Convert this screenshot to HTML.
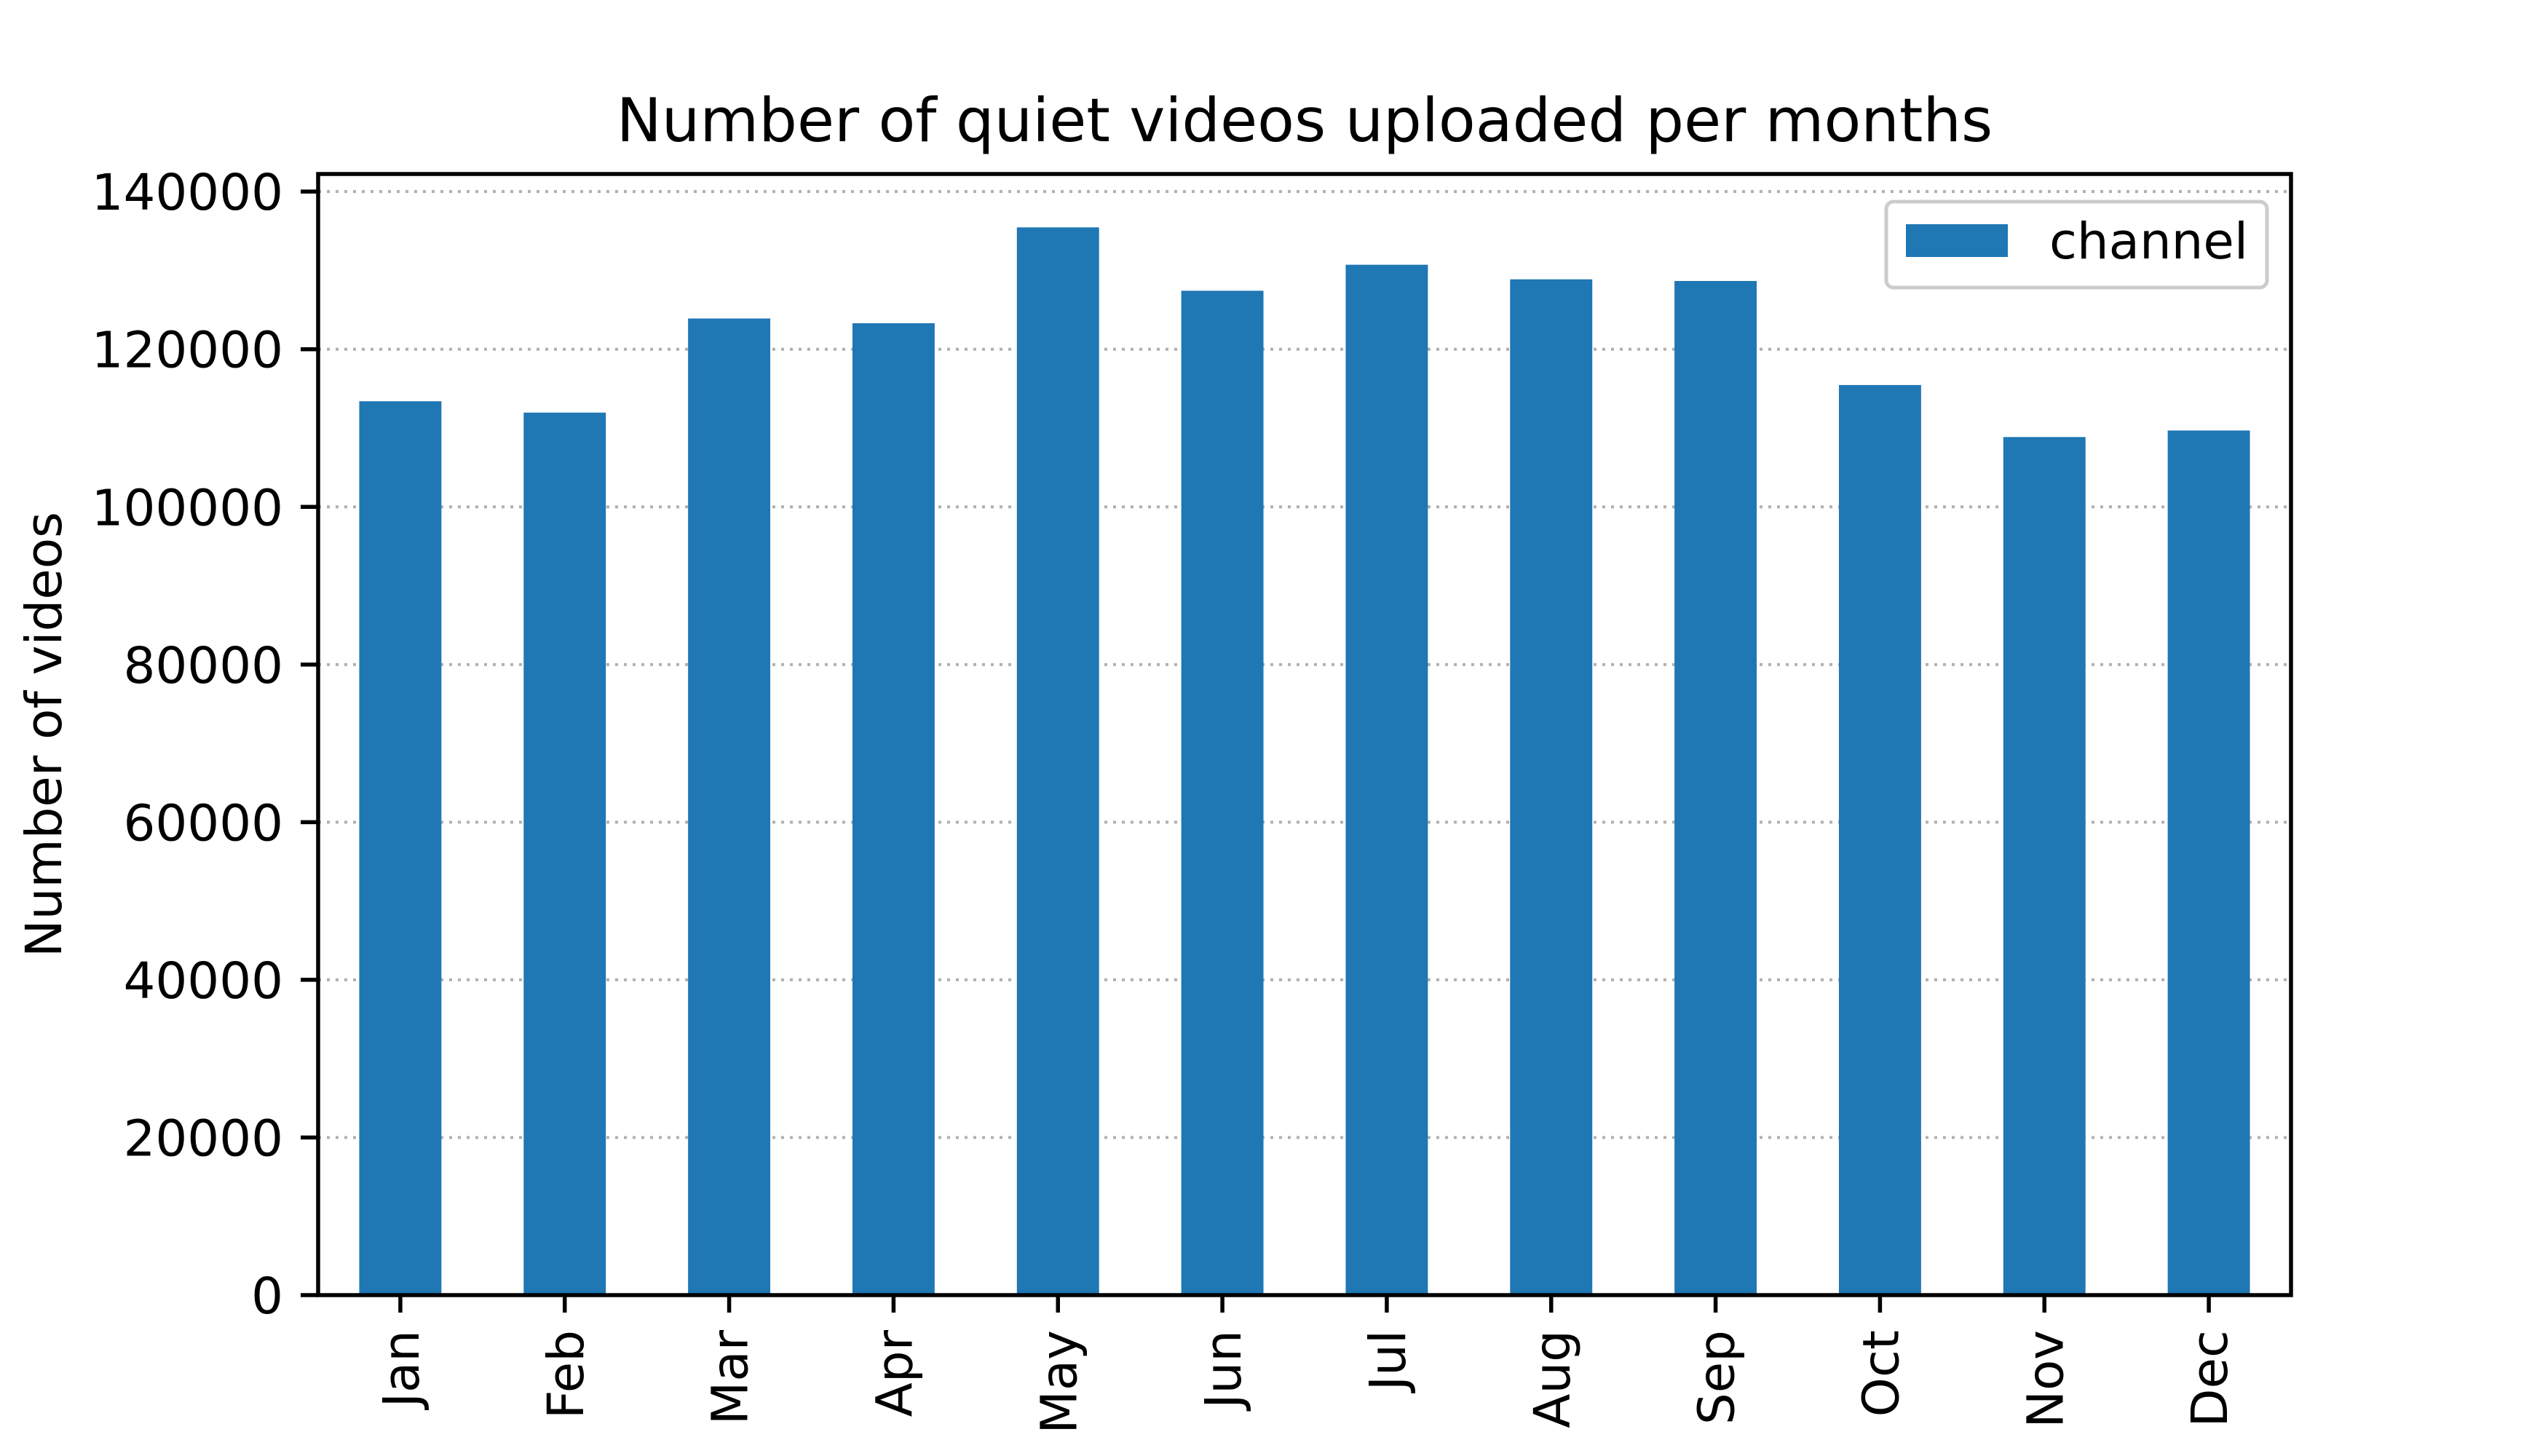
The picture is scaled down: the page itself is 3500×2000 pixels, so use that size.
<!DOCTYPE html>
<html><head><meta charset="utf-8"><style>
html,body{margin:0;padding:0;background:#fff}
svg{display:block;font-family:"DejaVu Sans","Liberation Sans",sans-serif}
</style></head><body>
<svg id="chart" width="3500" height="2000" viewBox="0 0 3500 2000" xmlns="http://www.w3.org/2000/svg">
<rect width="3500" height="2000" fill="#fff"/>
<text x="1792" y="194" font-size="83" text-anchor="middle">Number of quiet videos uploaded per months</text>
<g id="grid"></g><g id="bars"></g><g id="yticks"></g><g id="xticks"></g>
<rect x="437" y="239" width="2710" height="1540" fill="none" stroke="#000" stroke-width="5.5"/>
<text transform="translate(84,1009) rotate(-90)" font-size="69" text-anchor="middle">Number of videos</text>
<g>
<rect x="2591" y="277" width="523" height="118" rx="10" fill="#fff" fill-opacity="0.8" stroke="#ccc" stroke-width="5"/>
<rect x="2618" y="308" width="140" height="45" fill="#1f77b4"/>
<text x="2815" y="355" font-size="69">channel</text>
</g>
</svg>
<script>
const categories=["Jan","Feb","Mar","Apr","May","Jun","Jul","Aug","Sep","Oct","Nov","Dec"];
const values=[113400,111960,123900,123300,135460,127420,130720,128870,128660,115460,108860,109690];
const yTicks=[0,20000,40000,60000,80000,100000,120000,140000];
const NS="http://www.w3.org/2000/svg";
const L=437,R=3147,T=239,B=1779;
const yMax=Math.max(...values)*1.05;
const y=v=>B-(v/yMax)*(B-T);
const xs=i=>L+(i+0.5)*(R-L)/categories.length;
const bw=0.5*(R-L)/categories.length;
function mk(t,a,p){const e=document.createElementNS(NS,t);for(const k in a)e.setAttribute(k,a[k]);p.appendChild(e);return e;}
const g=document.getElementById('grid'),bars=document.getElementById('bars'),yt=document.getElementById('yticks'),xt=document.getElementById('xticks');
yTicks.forEach(v=>{
 const yy=y(v);
 const gl=mk('line',{x1:L,x2:R,y1:yy,y2:yy,stroke:'#b0b0b0','stroke-width':4,'stroke-dasharray':'4 8'},g);
 
 
 const tk=mk('line',{x1:L-24,x2:L,y1:yy,y2:yy,stroke:'#000','stroke-width':5.5},yt);
 
 
 const tl=mk('text',{x:L-48,y:yy+25,'font-size':69,'text-anchor':'end'},yt);
 tl.textContent=v;
 
 
});
categories.forEach((c,i)=>{
 const cx=xs(i);
 const b=mk('rect',{x:cx-bw/2,y:y(values[i]),width:bw,height:B-y(values[i]),fill:'#1f77b4'},bars);
 
 
 const tk=mk('line',{x1:cx,x2:cx,y1:B,y2:B+24,stroke:'#000','stroke-width':5.5},xt);
 
 
 const tl=mk('text',{transform:`translate(${cx+25},${B+48}) rotate(-90)`,'font-size':69,'text-anchor':'end'},xt);
 tl.textContent=c;
 
 
});
</script>
</body></html>
